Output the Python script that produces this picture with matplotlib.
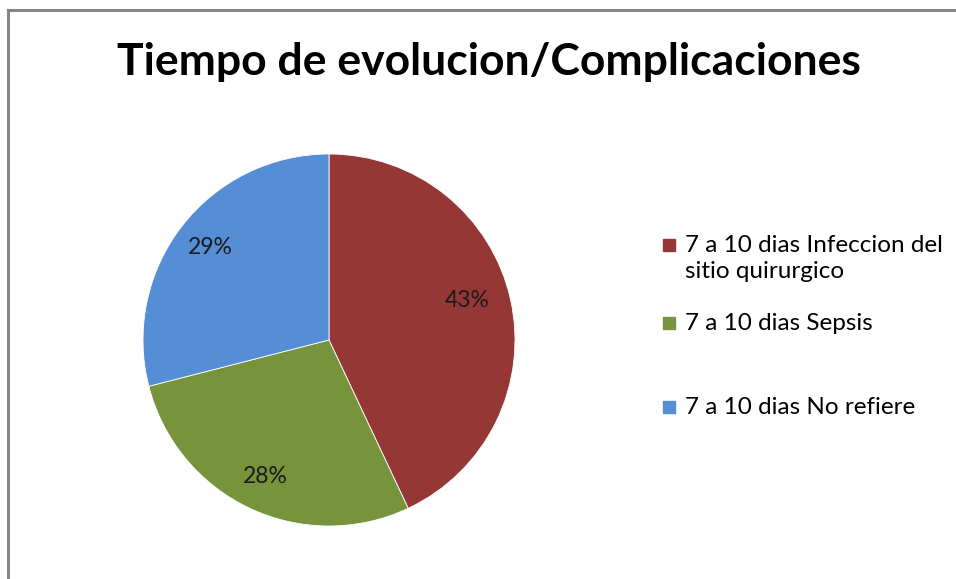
import matplotlib
matplotlib.use("Agg")
import matplotlib.pyplot as plt
import numpy as np
from matplotlib.patches import Rectangle
from matplotlib.lines import Line2D

title = "Tiempo de evolucion/Complicaciones"
categories = ["7 a 10 dias Infeccion del\nsitio quirurgico", "7 a 10 dias Sepsis", "7 a 10 dias No refiere"]
values = [43, 28, 29]
colors = ["#953735", "#77933C", "#558ED5"]

W, H = 956, 579
fig = plt.figure(figsize=(W / 100, H / 100), dpi=100)
fig.patch.set_facecolor("white")
FONT = "Lato"

# frame lines (top and left, as in the cropped reference)
fig.add_artist(Line2D([8 / W, 1.0], [1 - 10 / H, 1 - 10 / H], color="#868686", lw=2.2, transform=fig.transFigure))
fig.add_artist(Line2D([8 / W, 8 / W], [0, 1 - 10 / H], color="#868686", lw=2.2, transform=fig.transFigure))

fig.text(489 / W, 1 - 62 / H, title, ha="center", va="center", fontsize=32, fontweight="bold",
         family=FONT, color="black")

cx, cy, r = 329, 340, 186
ax = fig.add_axes([(cx - r) / W, (H - cy - r) / H, 2 * r / W, 2 * r / H])
wedges, texts, autotexts = ax.pie(values, colors=colors, startangle=90, counterclock=False,
                                  radius=1, autopct="%1.0f%%", pctdistance=0.81,
                                  wedgeprops=dict(linewidth=0.6, edgecolor="white"),
                                  textprops=dict(fontsize=16.5, family=FONT, color="#1a1a1a"))
ax.set_xlim(-1, 1)
ax.set_ylim(-1, 1)
ax.set_aspect("equal")
ax.axis("off")
# Excel best-fit label placement for the first slice
ang = np.deg2rad(16)
autotexts[0].set_position((0.77 * np.cos(ang), 0.77 * np.sin(ang)))

# legend
ys = [245, 323, 407]
for lab, col, y in zip(categories, colors, ys):
    fig.add_artist(Rectangle((663 / W, 1 - (y + 6) / H), 12 / W, 12 / H, color=col, transform=fig.transFigure))
    fig.text(685 / W, 1 - (y - 10) / H, lab, ha="left", va="top", fontsize=17.5, family=FONT,
             color="black", linespacing=1.3)

fig.savefig("out.png", dpi=100, facecolor="white")
